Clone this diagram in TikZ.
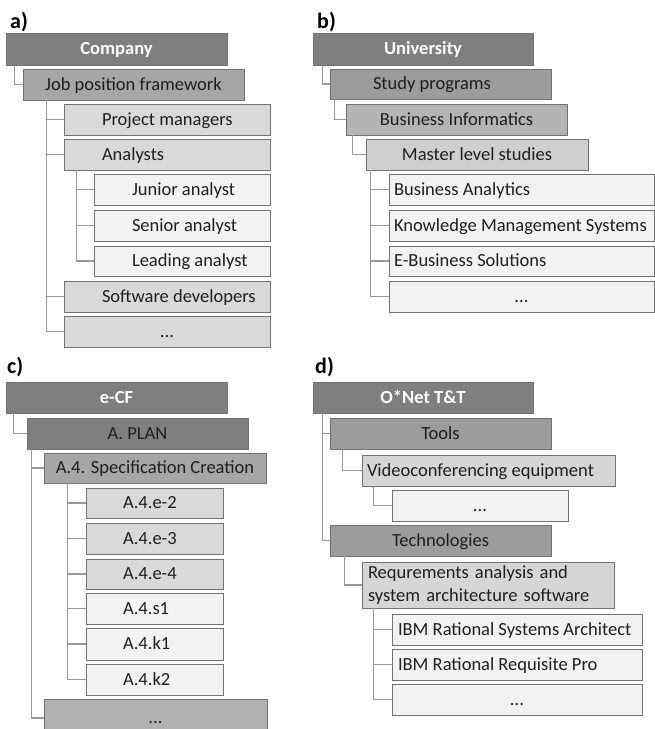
\documentclass[tikz,border=0pt]{standalone}
\usepackage{fontspec}
\setmainfont{Carlito}

\definecolor{tone1}{HTML}{7F7F7F}
\definecolor{tone2}{HTML}{A6A6A6}
\definecolor{tone2b}{HTML}{9C9C9C}
\definecolor{tone3}{HTML}{B4B4B4}
\definecolor{tone3c}{HTML}{B2B2B2}
\definecolor{tone4}{HTML}{D9D9D9}
\definecolor{tone4b}{HTML}{CFCFCF}
\definecolor{tone4c}{HTML}{D6D6D6}
\definecolor{tone5}{HTML}{F2F2F2}
\definecolor{linegray}{HTML}{9A9A9A}

% box given by its corners: style, name, x1, y1, x2, y2, text
\newcommand\pbox[7]{\node[#1, minimum width={(#5)-(#3)}, minimum height={(#6)-(#4)}] (#2) at ({(#3+#5)/2},{(#4+#6)/2}) {#7};}
% left aligned text: left offset, box width, text
\newcommand\padl[3]{\makebox[#2pt][l]{\hspace*{#1pt}#3}}

\begin{document}
\begin{tikzpicture}[x=1pt,y=-1pt,
  boxbase/.style={draw=black!55, line width=0.8pt, rectangle, inner xsep=0pt, inner ysep=0pt,
                  font=\fontsize{18.5}{22.5}\selectfont, text=black!88},
  box/.style={boxbase, text height=11.6pt, text depth=0.6pt},
  head/.style={box, fill=tone1, text=white, font=\fontsize{18.5}{22.5}\selectfont\bfseries},
  conn/.style={draw=linegray, line width=1.1pt},
  tag/.style={font=\fontsize{22}{26}\selectfont\bfseries, anchor=base west, inner sep=0pt}]
\useasboundingbox (0,0) rectangle (655,729);
\clip (0,0) rectangle (655,729);
\fill[white] (0,0) rectangle (655,729);

% ---------- a) company ----------
\node[tag] (taga) at (10,28) {a)};
\pbox{head}{company}{6}{33}{227}{65}{Company}
\pbox{box,fill=tone2}{jpf}{23}{69}{244}{100}{Job position framework}
\pbox{box,fill=tone4}{pm}{64}{104}{270}{135}{\padl{38}{206}{Project managers}}
\pbox{box,fill=tone4}{an}{64}{139}{270}{170}{\padl{38}{206}{Analysts}}
\pbox{box,fill=tone5}{ja}{94}{174}{270}{205}{\padl{38}{176}{Junior analyst}}
\pbox{box,fill=tone5}{sa}{94}{210}{270}{241}{\padl{38}{176}{Senior analyst}}
\pbox{box,fill=tone5}{la}{94}{246}{270}{276}{\padl{38}{176}{Leading analyst}}
\pbox{box,fill=tone4}{sd}{64}{281}{270}{312}{\padl{38}{206}{Software developers}}
\pbox{box,fill=tone4}{am}{64}{316}{270}{347}{...}
\draw[conn] ([xshift=9]company.south west) |- (jpf.west);
\foreach \c in {pm,an,sd,am} \draw[conn] ([xshift=24]jpf.south west) |- (\c.west);
\foreach \c in {ja,sa,la} \draw[conn] ([xshift=13]an.south west) |- (\c.west);

% ---------- b) university ----------
\node[tag] (tagb) at (317,28) {b)};
\pbox{head}{uni}{313}{33}{533}{65}{University}
\pbox{box,fill=tone2b}{sp}{330}{69}{551}{99}{\padl{43}{221}{Study programs}}
\pbox{box,fill=tone3}{bi}{346}{104}{567}{135}{Business Informatics}
\pbox{box,fill=tone4b}{ml}{366}{139}{588}{170}{Master level studies}
\pbox{box,fill=tone5}{ba}{389}{174}{654}{205}{\padl{5}{265}{Business Analytics}}
\pbox{box,fill=tone5}{kms}{389}{210}{654}{241}{\padl{5}{265}{Knowledge Management Systems}}
\pbox{box,fill=tone5}{ebs}{389}{246}{654}{276}{\padl{5}{265}{E-Business Solutions}}
\pbox{box,fill=tone5}{bm}{389}{281}{654}{312}{...}
\draw[conn] ([xshift=10]uni.south west) |- (sp.west);
\draw[conn] ([xshift=5]sp.south west) |- (bi.west);
\draw[conn] ([xshift=7]bi.south west) |- (ml.west);
\foreach \c in {ba,kms,ebs,bm} \draw[conn] ([xshift=5]ml.south west) |- (\c.west);

% ---------- c) e-CF ----------
\node[tag] (tagc) at (7,373) {c)};
\pbox{head}{ecf}{6}{382}{227}{413}{e-CF}
\pbox{box,fill=tone1}{plan}{27}{418}{248}{449}{A. PLAN}
\pbox{box,fill=tone2}{spec}{44}{453}{266}{483}{A.4. Specification Creation}
\pbox{box,fill=tone4}{ea}{86}{488}{223}{518}{\padl{37}{137}{A.4.e-2}}
\pbox{box,fill=tone4}{eb}{86}{523}{223}{554}{\padl{37}{137}{A.4.e-3}}
\pbox{box,fill=tone4}{ec}{86}{559}{223}{589}{\padl{37}{137}{A.4.e-4}}
\pbox{box,fill=tone5}{sa1}{86}{593}{223}{624}{\padl{37}{137}{A.4.s1}}
\pbox{box,fill=tone5}{ka}{86}{628}{223}{660}{\padl{37}{137}{A.4.k1}}
\pbox{box,fill=tone5}{kb}{86}{664}{223}{695}{\padl{37}{137}{A.4.k2}}
\pbox{box,fill=tone3c}{cm}{44}{699}{267}{737}{...}
\draw[conn] ([xshift=8]ecf.south west) |- (plan.west);
\foreach \c in {spec,cm} \draw[conn] ([xshift=5]plan.south west) |- (\c.west);
\foreach \c in {ea,eb,ec,sa1,ka,kb} \draw[conn] ([xshift=24]spec.south west) |- (\c.west);

% ---------- d) O*Net tools and technologies ----------
\node[tag] (tagd) at (315,373) {d)};
\pbox{head}{onet}{313}{382}{533}{413}{O*Net T\&T}
\pbox{box,fill=tone2b}{tools}{330}{418}{551}{449}{Tools}
\pbox{box,fill=tone4c}{video}{362}{455}{615}{486}{\padl{5}{253}{Videoconferencing equipment}}
\pbox{box,fill=tone5}{vm}{392}{490}{568}{521}{...}
\pbox{box,fill=tone2b}{tech}{330}{525}{551}{556}{Technologies}
\pbox{boxbase,fill=tone4c,text width=240pt,align=left,inner xsep=6pt}{req}{362}{562}{614}{608}{Requrements analysis and\\system architecture software}
\pbox{box,fill=tone5}{ibma}{392}{614}{642}{645}{\padl{6}{250}{IBM Rational Systems Architect}}
\pbox{box,fill=tone5}{ibmb}{392}{649}{642}{680}{\padl{6}{250}{IBM Rational Requisite Pro}}
\pbox{box,fill=tone5}{dm}{392}{684}{642}{715}{...}
\foreach \c in {tools,tech} \draw[conn] ([xshift=10]onet.south west) |- (\c.west);
\draw[conn] ([xshift=13]tools.south west) |- (video.west);
\draw[conn] ([xshift=12]video.south west) |- (vm.west);
\draw[conn] ([xshift=15]tech.south west) |- (req.west);
\foreach \c in {ibma,ibmb,dm} \draw[conn] ([xshift=12]req.south west) |- (\c.west);
\end{tikzpicture}
\end{document}
